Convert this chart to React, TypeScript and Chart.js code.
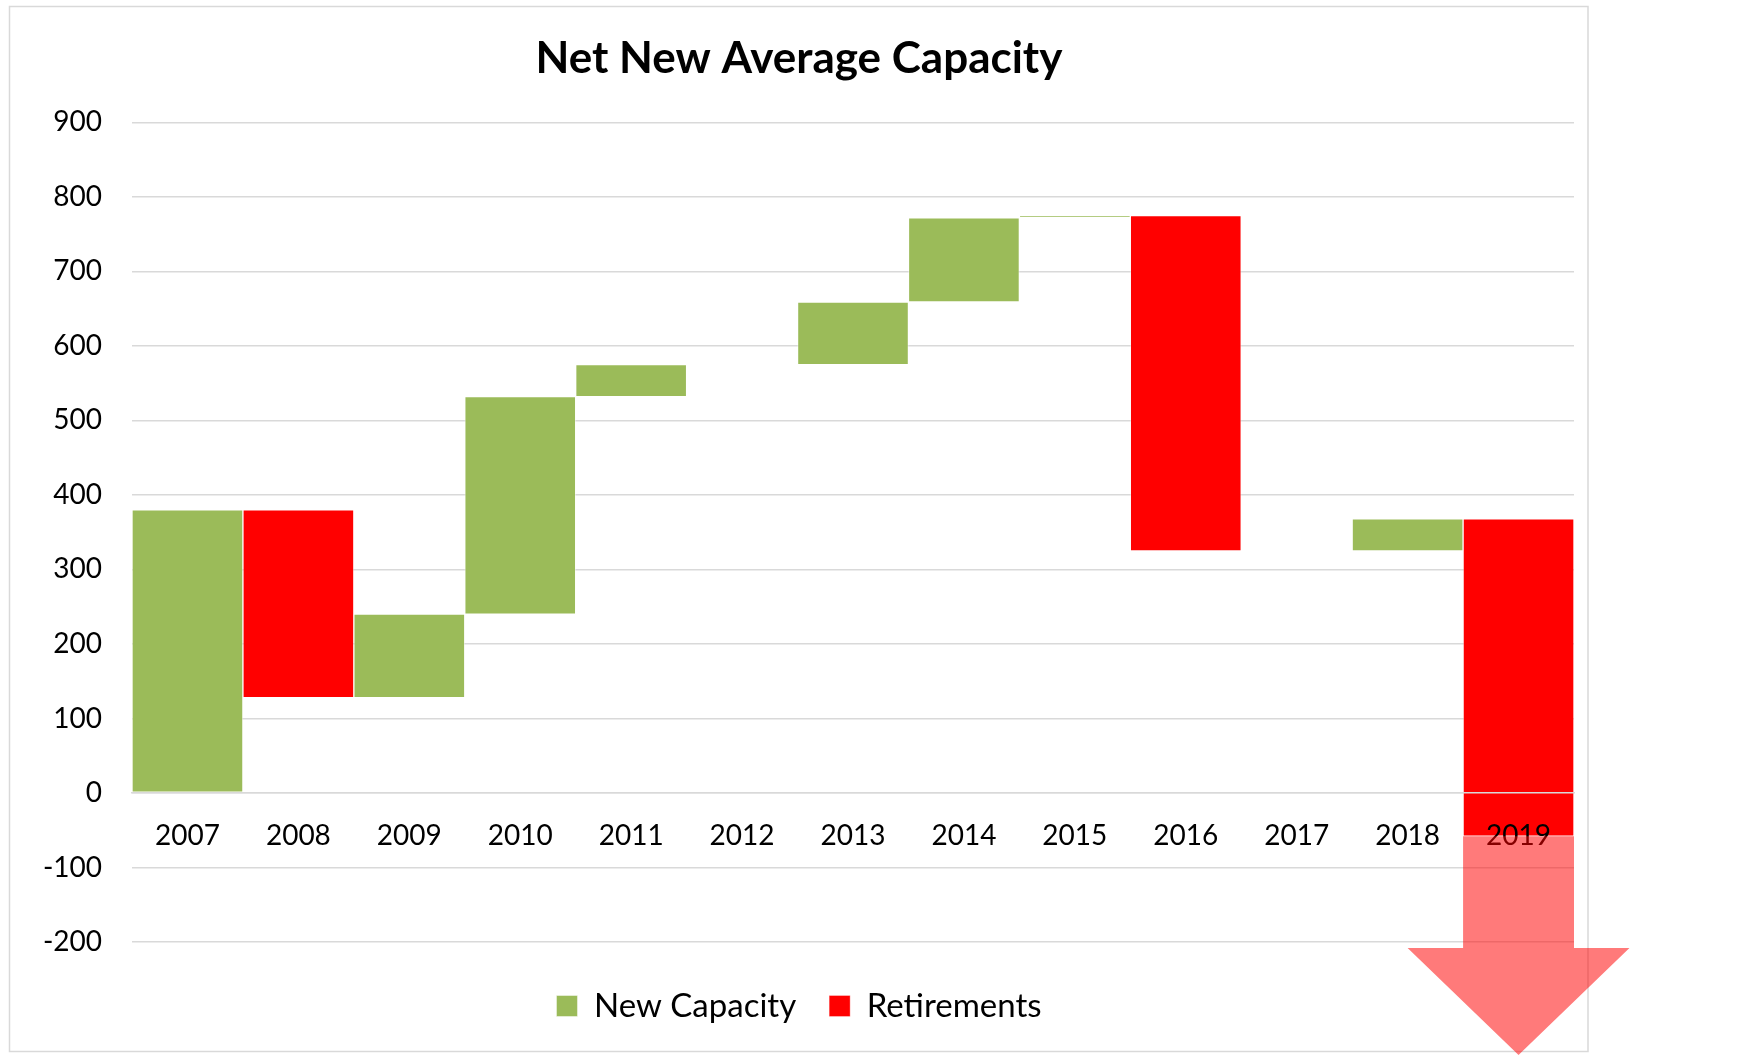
import React, { useEffect, useRef } from 'react';
import { Chart, registerables } from 'chart.js';

Chart.register(...registerables);

const FONT = "Lato, 'Open Sans', 'Liberation Sans', sans-serif";

const years = ['2007', '2008', '2009', '2010', '2011', '2012', '2013', '2014', '2015', '2016', '2017', '2018', '2019'];
const newCapacity = [380, 0, 112, 292, 43, 0, 84, 113, 3, 0, 0, 43, 0];
const retirements = [0, 252, 0, 0, 0, 0, 0, 0, 0, 450, 0, 0, 426];
const yMin = -200;
const yMax = 900;
const yStep = 100;

const GREEN = '#9bbb59';
const RED = '#ff0000';
const GRID = '#d9d9d9';

function buildWaterfall() {
  let level = 0;
  const green: ([number, number] | null)[] = [];
  const red: ([number, number] | null)[] = [];
  years.forEach((_, i) => {
    if (newCapacity[i]) {
      green.push([level, level + newCapacity[i]]);
      level += newCapacity[i];
    } else green.push(null);
    if (retirements[i]) {
      red.push([level, level - retirements[i]]);
      level -= retirements[i];
    } else red.push(null);
  });
  return { green, red };
}

const framePlugin = {
  id: 'frame',
  beforeDraw(chart: any) {
    const { ctx, width, height, chartArea } = chart;
    ctx.save();
    ctx.fillStyle = '#ffffff';
    ctx.fillRect(0, 0, width, height);
    ctx.strokeStyle = GRID;
    ctx.lineWidth = 1.5;
    const right = chartArea.right + 14;
    ctx.strokeRect(9.5, 6.5, right - 9.5, height - 3.5 - 6.5);
    ctx.restore();
  },
};

const arrowPlugin = {
  id: 'downArrow',
  afterDraw(chart: any) {
    let idx = -1;
    retirements.forEach((v, i) => { if (v) idx = i; });
    if (idx < 0) return;
    const bar: any = chart.getDatasetMeta(1).data[idx];
    if (!bar) return;
    const { ctx, height } = chart;
    const yScale = chart.scales.y;
    const half = bar.width / 2;
    const left = bar.x - half;
    const right = bar.x + half;
    const top = Math.max(bar.y, bar.base);
    const headY = yScale.getPixelForValue(yMin) + 6;
    const headHalf = bar.width;
    ctx.save();
    ctx.fillStyle = 'rgba(255, 0, 0, 0.52)';
    ctx.beginPath();
    ctx.moveTo(left, top);
    ctx.lineTo(right, top);
    ctx.lineTo(right, headY);
    ctx.lineTo(bar.x + headHalf, headY);
    ctx.lineTo(bar.x, height);
    ctx.lineTo(bar.x - headHalf, headY);
    ctx.lineTo(left, headY);
    ctx.closePath();
    ctx.fill();
    ctx.restore();
  },
};

export default function App() {
  const ref = useRef<HTMLCanvasElement | null>(null);

  useEffect(() => {
    if (!ref.current) return;
    const { green, red } = buildWaterfall();
    const chart = new Chart(ref.current, {
      type: 'bar',
      data: {
        labels: years,
        datasets: [
          {
            label: 'New Capacity',
            data: green as any,
            backgroundColor: GREEN,
            borderColor: 'rgba(255,255,255,0.45)',
            borderWidth: 1,
            borderSkipped: false,
          },
          {
            label: 'Retirements',
            data: red as any,
            backgroundColor: RED,
            borderColor: 'rgba(255,255,255,0.35)',
            borderWidth: 1,
            borderSkipped: false,
          },
        ],
      },
      options: {
        responsive: false,
        animation: false,
        layout: { padding: { left: 24, right: 167, top: 0, bottom: 22.5 } },
        datasets: { bar: { grouped: false, barPercentage: 1, categoryPercentage: 1 } },
        plugins: {
          title: {
            display: true,
            text: 'Net New Average Capacity',
            color: '#000',
            font: { family: FONT, size: 44, weight: 'bold' },
            padding: { top: 32, bottom: 37.6 },
          },
          legend: {
            position: 'bottom',
            labels: {
              color: '#000',
              font: { family: FONT, size: 33 },
              boxWidth: 21,
              boxHeight: 21,
              padding: 33,
            },
            title: { display: true, text: '', padding: 0, font: { size: 10, lineHeight: 1.45 } },
          },
          tooltip: { enabled: false },
        },
        scales: {
          x: {
            position: { y: 0 } as any,
            z: 1,
            grid: { display: false, drawTicks: false },
            border: { display: true, color: GRID, width: 1.5, z: 1 } as any,
            ticks: {
              color: '#000',
              font: { family: FONT, size: 28 },
              padding: 26,
              maxRotation: 0,
              autoSkip: false,
              z: 1,
            },
            afterFit: (s: any) => { s.height = 0; },
          },
          y: {
            min: yMin,
            max: yMax,
            ticks: {
              stepSize: yStep,
              color: '#000',
              font: { family: FONT, size: 28 },
              padding: 30,
            },
            grid: { color: GRID, lineWidth: 1.5, drawTicks: false },
            border: { display: false },
            afterFit: (s: any) => { s.width = 108; },
          },
        },
      },
      plugins: [framePlugin, arrowPlugin],
    });
    return () => chart.destroy();
  }, []);

  return (
    <div style={{ position: 'fixed', left: 0, top: 0, width: 1741, height: 1055, background: '#fff' }}>
      <canvas ref={ref} width={1741} height={1055} style={{ display: 'block', width: 1741, height: 1055 }} />
    </div>
  );
}
